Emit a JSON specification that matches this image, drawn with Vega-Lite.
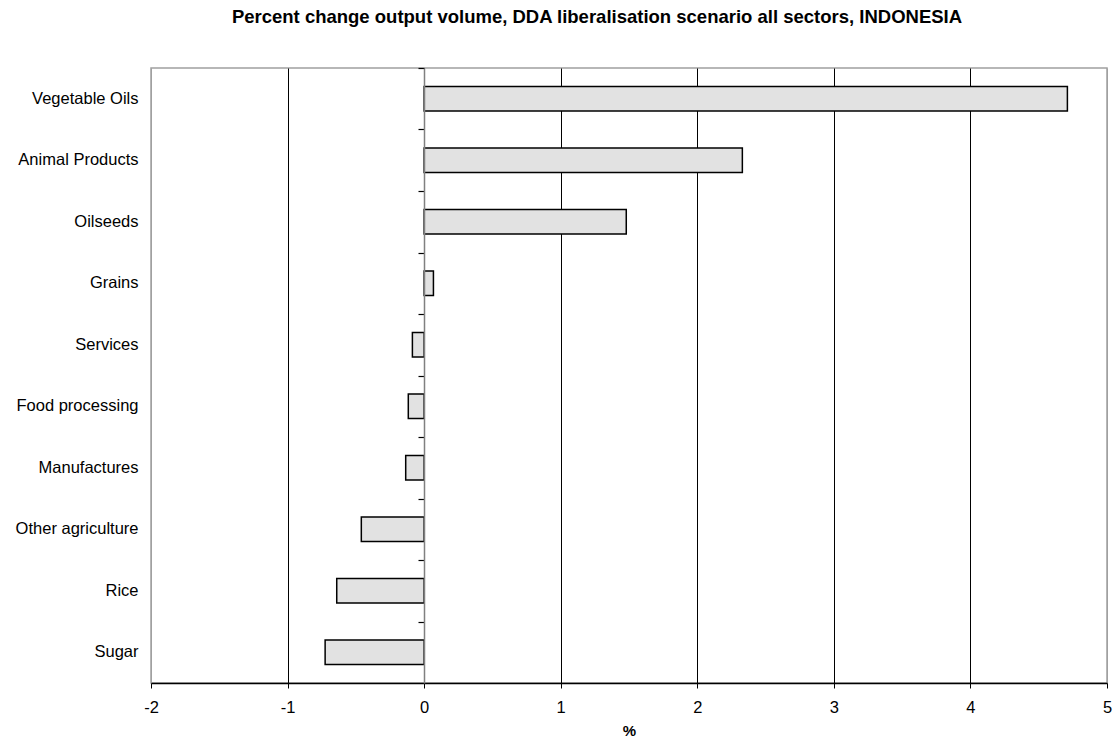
{
  "$schema": "https://vega.github.io/schema/vega-lite/v6.json",
  "autosize": "none",
  "width": 956,
  "height": 615,
  "padding": {"left": 151, "top": 68, "right": 6, "bottom": 59},
  "background": "white",
  "title": {
    "text": "Percent change output volume, DDA liberalisation scenario all sectors, INDONESIA",
    "font": "Liberation Sans",
    "fontSize": 18.5,
    "fontWeight": "bold",
    "color": "black",
    "anchor": "middle",
    "frame": "group",
    "dx": -32,
    "offset": 41
  },
  "config": {
    "view": {"stroke": "#a0a0a0", "strokeWidth": 1.5},
    "axis": {"labelFont": "Liberation Sans", "titleFont": "Liberation Sans", "labelColor": "black", "titleColor": "black"}
  },
  "data": {
    "values": [
      {"sector": "Vegetable Oils", "value": 4.71},
      {"sector": "Animal Products", "value": 2.33},
      {"sector": "Oilseeds", "value": 1.48},
      {"sector": "Grains", "value": 0.068},
      {"sector": "Services", "value": -0.086},
      {"sector": "Food processing", "value": -0.116},
      {"sector": "Manufactures", "value": -0.135},
      {"sector": "Other agriculture ", "value": -0.46},
      {"sector": "Rice", "value": -0.64},
      {"sector": "Sugar", "value": -0.725}
    ]
  },
  "resolve": {"axis": {"y": "independent"}},
  "layer": [
    {
      "mark": {"type": "bar", "fill": "#e2e2e2", "stroke": "black", "strokeWidth": 1.5, "orient": "horizontal"},
      "encoding": {
        "y": {
          "field": "sector",
          "type": "nominal",
          "sort": null,
          "scale": {"paddingInner": 0.6, "paddingOuter": 0.3},
          "axis": {
            "orient": "left",
            "title": null,
            "ticks": false,
            "domain": false,
            "labelFontSize": 16.5,
            "labelPadding": 13,
            "labelAlign": "right"
          }
        },
        "x": {
          "field": "value",
          "type": "quantitative",
          "scale": {"domain": [-2, 5], "nice": false, "zero": false},
          "axis": {
            "title": "%",
            "titleFontSize": 15,
            "titleFontWeight": "bold",
            "titlePadding": 8,
            "values": [-2, -1, 0, 1, 2, 3, 4, 5],
            "labelExpr": "datum.value + ''",
            "labelFlush": false,
            "labelFontSize": 16.5,
            "labelPadding": 11,
            "tickSize": 5,
            "tickColor": "black",
            "domainColor": "black",
            "domainWidth": 1.5,
            "grid": true,
            "gridColor": {"condition": {"test": "datum.value == -2 || datum.value == 5", "value": "#a0a0a0"}, "value": "black"},
            "gridOpacity": 1,
            "gridWidth": 1,
            "zindex": 0
          }
        }
      }
    },
    {
      "mark": {"type": "bar", "opacity": 0},
      "encoding": {
        "y": {
          "field": "sector",
          "type": "nominal",
          "sort": null,
          "axis": {
            "orient": "left",
            "offset": -273,
            "title": null,
            "labels": false,
            "ticks": true,
            "bandPosition": 0,
            "tickOffset": -18.45,
            "tickSize": 6,
            "tickColor": "black",
            "tickWidth": 1.2,
            "domain": true,
            "domainColor": "#808080",
            "domainWidth": 1.5,
            "zindex": 1
          }
        },
        "x": {"field": "value", "type": "quantitative"}
      }
    }
  ]
}
